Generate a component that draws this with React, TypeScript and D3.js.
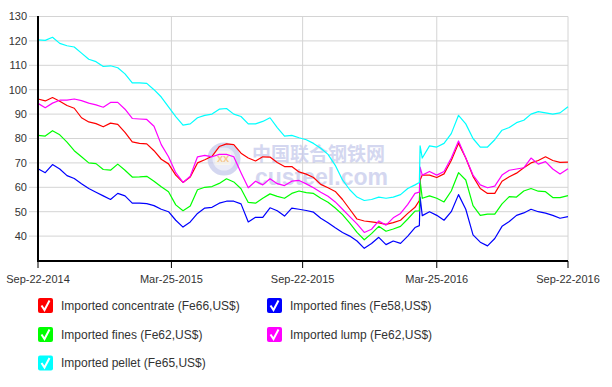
import React from 'react';
import * as d3 from 'd3';

// days after Sep-22-2014 for every sampled price point
const dayOffsets = [
  0, 10, 20, 30, 40, 50, 60, 70, 80, 90, 100, 110, 120, 130, 140, 150, 160, 170, 180, 190,
  200, 210, 220, 230, 240, 250, 260, 270, 280, 290, 300, 310, 320, 330, 340, 350, 360, 370,
  380, 390, 400, 410, 420, 430, 440, 450, 460, 470, 480, 490, 500, 510, 520, 526, 527, 530,
  540, 550, 560, 570, 580, 590, 600, 610, 620, 630, 640, 650, 660, 670, 680, 690, 700, 710,
  720, 731
];

const concentrateFe66 = [
  96.2, 95.4, 96.8, 95.3, 93.5, 92.4, 88.5, 86.8, 86.1, 84.8, 86.3, 85.8, 82.5, 78.6, 78, 77.8,
  75, 71.5, 69.6, 65, 62, 64.2, 70, 71.3, 72.7, 76.7, 77.8, 77.5, 74, 72, 70.8, 72.5, 72.4, 70.2,
  68.5, 68.5, 66.3, 65.4, 64, 61.2, 59.8, 58.3, 55, 51, 47, 46.2, 45.8, 45.4, 44.8, 45.5, 46.5,
  49.3, 51.8, 54.6, 63, 65, 65, 64, 65.5, 71, 78, 72, 64.5, 59.5, 57.5, 57.5, 62.5, 64.3, 65.8,
  68, 70, 71, 72.5, 71, 70.2, 70.3
];

const finesFe58 = [
  67.6, 66, 69.3, 67.5, 64.8, 63.6, 61.5, 59.5, 58, 56.5, 55, 57.5, 56.5, 53.5, 53.5, 53.3,
  52.5, 51, 50, 46.5, 43.7, 45.8, 49.3, 51.5, 51.8, 53.5, 54.3, 54.3, 53.2, 45.8, 47.7, 47.7,
  51.6, 50.4, 48.2, 51.5, 51, 50.5, 49.8, 47.3, 45.5, 43.4, 41.5, 40, 38, 35, 37, 39.5, 36.5,
  38, 37, 40, 43.5, 44.3, 56, 48.4, 50, 48.5, 46.5, 50, 57, 51, 40.5, 37.5, 36, 39, 44, 46, 48.5,
  49.5, 51, 50, 49.4, 48.5, 47.3, 48
];

const finesFe62 = [
  81.3, 81, 83.2, 81.5, 78.5, 75, 72.5, 70, 69.7, 67.3, 67, 69.5, 67, 64.2, 64.3, 64.5, 62.5,
  60.2, 58.2, 52.8, 50.4, 52.3, 59, 60, 60.3, 61.6, 63.5, 62.2, 59.4, 53.8, 53.5, 55.5, 57.3,
  56.3, 55.5, 57.5, 58.5, 57.8, 57.5, 55.5, 53.9, 51.5, 48.8, 45.3, 41.5, 38.5, 41, 44, 42, 42.9,
  44, 47, 50.2, 50.4, 62.8, 55.5, 56.5, 55.5, 54, 58.5, 66, 63, 52.5, 48.5, 49, 49, 53.2, 56.2,
  56, 58.5, 59.5, 58.4, 58.2, 55.8, 55.8, 56.6
];

const lumpFe62 = [
  94.4, 92.6, 94.5, 95.7, 95.7, 96.2, 95.5, 94.5, 93.8, 92.8, 94.8, 94.8, 92, 88.2, 88, 87.8,
  85, 77.5, 72.5, 66, 62, 64.5, 72.5, 73.1, 72.5, 73.5, 73.5, 72.5, 66, 59.8, 62.5, 61, 63.5,
  61.5, 60.7, 62.5, 62.8, 61.4, 59.8, 58, 56.3, 54, 51, 48, 45, 41.5, 42.8, 46.2, 44.5, 47.5,
  49.3, 53, 57.5, 58, 68.3, 65, 66.5, 65, 66.5, 72, 79, 72, 65, 61, 59.8, 60.5, 65, 67, 67.5,
  68, 72, 69.5, 70.5, 67.5, 65.5, 67.6
];

const pelletFe65 = [
  120.4, 120.2, 121.5, 119, 118, 117.5, 115, 112.5, 111.5, 109.5, 109.8, 109, 106.5, 102.8,
  102.8, 102.6, 100, 97, 93, 89, 85.5, 86, 88.5, 89.5, 90, 92, 92.3, 90, 89, 86, 86, 87, 88.5,
  84.5, 81, 81.3, 80.3, 79.5, 78, 76, 73.5, 69, 63, 59, 56, 54.6, 55, 56, 55.5, 56, 57, 59.5,
  61, 62, 77, 72, 77, 76.5, 78, 82, 89.5, 86, 80, 76.5, 76.5, 79.5, 83.4, 84.5, 86.5, 87.5, 90,
  91, 90.5, 90, 90.5, 93
];

const seriesNames = [
  'Imported concentrate (Fe66,US$)',
  'Imported fines (Fe58,US$)',
  'Imported fines (Fe62,US$)',
  'Imported lump (Fe62,US$)',
  'Imported pellet (Fe65,US$)'
];
const seriesColors = ['#ff0000', '#0000ff', '#00ff00', '#ff00ff', '#00ffff'];
const seriesValues = [concentrateFe66, finesFe58, finesFe62, lumpFe62, pelletFe65];

const yTicks = [40, 50, 60, 70, 80, 90, 100, 110, 120, 130];
const xTickLabels = ['Sep-22-2014', 'Mar-25-2015', 'Sep-22-2015', 'Mar-25-2016', 'Sep-22-2016'];

const W = 612;
const H = 387;
const FONT = '"Liberation Sans", Arial, sans-serif';

const parseTick = d3.timeParse('%b-%d-%Y');
const dates = dayOffsets.map((d) => new Date(2014, 8, 22 + d));

export default function App() {
  const x = d3.scaleTime()
    .domain([new Date(2014, 8, 22), new Date(2016, 8, 22)])
    .range([38, 568]);
  const y = d3.scaleLinear().domain([30, 130]).range([260.5, 16.5]);

  const line = d3.line<number>()
    .x((_, i) => x(dates[i]))
    .y((v) => y(v));

  const xTicks = xTickLabels.map((label) => ({ label, px: x(parseTick(label) as Date) }));

  const legendRows = [305.5, 334.5, 363];
  const legendCols = [38, 267];

  return (
    <svg
      width={W}
      height={H}
      style={{ position: 'absolute', left: 0, top: 0, display: 'block', background: '#fff' }}
      fontFamily={FONT}
    >
      {/* grid */}
      <g>
        {yTicks.map((t) => (
          <line key={t} x1={29} x2={568} y1={y(t)} y2={y(t)} stroke="#d4d4d4" strokeWidth={1} />
        ))}
        {xTicks.slice(1).map((t) => (
          <line key={t.label} x1={t.px} x2={t.px} y1={y(130)} y2={260.5} stroke="#d4d4d4" strokeWidth={1} />
        ))}
      </g>

      {/* watermark */}
      <g opacity={0.7}>
        <circle cx={224} cy={159} r={14} fill="#e4e6f6" stroke="#c3c7ea" strokeWidth={5} />
        <rect x={215} y={151} width={16} height={14} rx={2} fill="#f5f1ea" />
        <text x={223} y={162} fontSize={11} fill="#f0b060" textAnchor="middle" fontWeight="bold">xx</text>
        <text x={252} y={161} fontSize={19} fontWeight="bold" fill="#c3c7ea"
          fontFamily='"Noto Sans CJK SC", sans-serif'>中国联合钢铁网</text>
        <text x={255} y={185} fontSize={23} fontWeight="bold" fill="#c3c7ea">custeel.com</text>
      </g>

      {/* series */}
      <g fill="none" strokeWidth={1.2} strokeLinejoin="round">
        {seriesValues.map((vals, i) => (
          <path key={seriesNames[i]} d={line(vals) ?? ''} stroke={seriesColors[i]} />
        ))}
      </g>

      {/* axes */}
      <line x1={38} x2={38} y1={16} y2={261.5} stroke="#000" strokeWidth={2} />
      <line x1={37} x2={568} y1={261} y2={261} stroke="#000" strokeWidth={2} />
      {yTicks.map((t) => (
        <text key={t} x={27} y={y(t)} dy="0.35em" fontSize={11} fill="#333" textAnchor="end">{t}</text>
      ))}
      {xTicks.map((t) => (
        <g key={t.label}>
          <line x1={t.px} x2={t.px} y1={261} y2={268} stroke="#000" strokeWidth={1} />
          <text x={t.px} y={283} fontSize={11} fill="#333" textAnchor="middle">{t.label}</text>
        </g>
      ))}

      {/* legend */}
      {seriesNames.map((name, i) => {
        const lx = legendCols[i % 2];
        const ly = legendRows[Math.floor(i / 2)];
        return (
          <g key={name} transform={`translate(${lx},${ly - 7.5})`}>
            <rect width={15} height={15} rx={2} fill={seriesColors[i]} />
            <path d="M3.5,7.5 L6.5,12 L11.5,2.5" fill="none" stroke="#fff" strokeWidth={2} />
            <text x={23} y={7.5} dy="0.35em" fontSize={12} fill="#333">{name}</text>
          </g>
        );
      })}
    </svg>
  );
}
